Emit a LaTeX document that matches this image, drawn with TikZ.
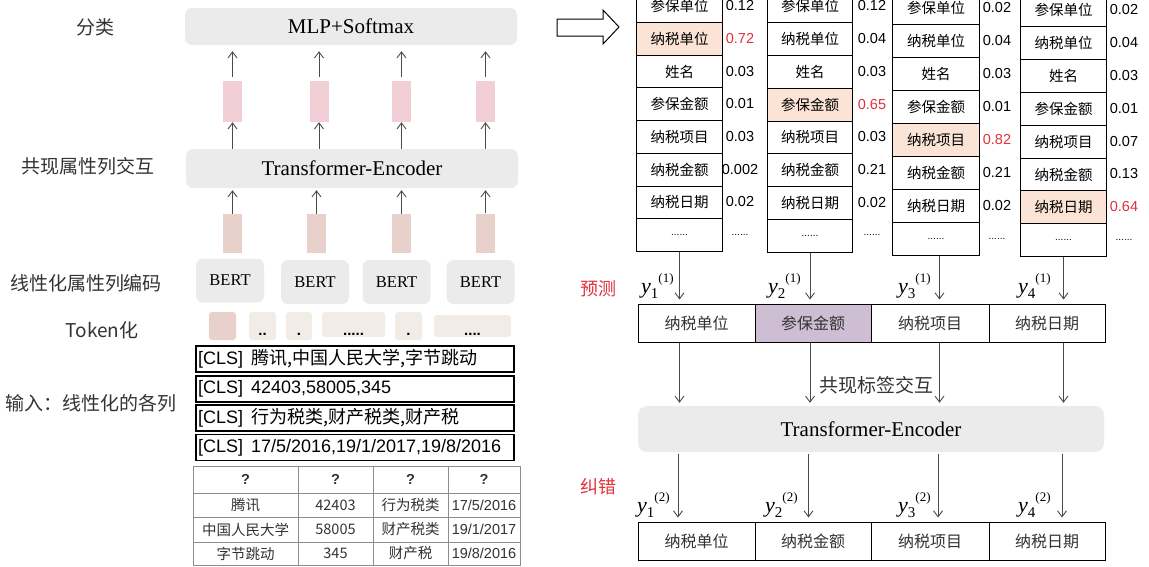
\documentclass[tikz,border=0pt]{standalone}
\usepackage{fontspec}
\setmainfont{Liberation Serif}
\setsansfont{Liberation Sans}
\newfontfamily\cjk{Noto Sans CJK SC}
\usetikzlibrary{arrows.meta}
\definecolor{cBox}{HTML}{EBEBEB}
\definecolor{cPinkA}{HTML}{F2CED6}
\definecolor{cPinkB}{HTML}{E8D1CB}
\definecolor{cTok}{HTML}{F2ECE6}
\definecolor{cHl}{HTML}{FBE4D5}
\definecolor{cPurple}{HTML}{CDBED3}
\definecolor{cRed}{HTML}{E0323A}
\definecolor{cArr}{HTML}{4A4A4A}
\definecolor{cGrid}{HTML}{8C8C8C}
\definecolor{cTxt}{HTML}{333333}
\newcommand\ylb[2]{\fontsize{22}{22}\selectfont\textit{y}\raisebox{-5pt}{\fontsize{15}{15}\selectfont #1}\raisebox{11pt}{\fontsize{13}{13}\selectfont(#2)}}
\newcommand\tdots{{\sffamily\fontsize{10}{10}\selectfont ......}}
\tikzset{
  lab/.style={font=\cjk\fontsize{19}{19}\selectfont, inner sep=0pt, text=cTxt},
  gbox/.style={fill=cBox, rounded corners=7pt, inner sep=0pt},
  arr/.style={draw=cArr, line width=0.9pt, -{Straight Barb[length=6pt,width=9pt]}},
  pinkup/.style={fill=cPinkA, minimum width=19pt, minimum height=41pt, inner sep=0pt},
  pinklow/.style={fill=cPinkB, minimum width=19pt, minimum height=39pt, inner sep=0pt},
  bert/.style={gbox, minimum width=68pt, minimum height=44pt, font=\fontsize{16.5}{16.5}\selectfont},
  tok/.style={fill=cTok, rounded corners=3pt, inner sep=0pt},
  dotstxt/.style={font=\sffamily\bfseries\fontsize{15}{15}\selectfont, inner sep=0pt, anchor=base},
  clsbox/.style={draw=black, line width=1.2pt, minimum width=318pt, minimum height=26pt, text width=314pt, align=left, inner xsep=2pt, inner ysep=0pt, font=\sffamily\fontsize{18}{18}\selectfont},
  tcell/.style={inner sep=0pt, font=\cjk\fontsize{14.5}{14.5}\selectfont, text=cTxt},
  pcell/.style={draw=black, line width=1pt, inner sep=0pt, anchor=north west, font=\cjk\fontsize{14.5}{14.5}\selectfont},
  prob/.style={inner sep=0pt, font=\sffamily\fontsize{14.5}{14.5}\selectfont},
  rowcell/.style={draw=black, line width=1pt, minimum height=38pt, inner sep=0pt, font=\cjk\fontsize{16}{16}\selectfont, text=cTxt},
  redlab/.style={font=\cjk\fontsize{18}{18}\selectfont, text=cRed, inner sep=0pt},
  ylab/.style={inner sep=0pt, anchor=base west},
}
\begin{document}
\begin{tikzpicture}[x=1pt,y=-1pt]
\path[use as bounding box] (0,0) rectangle (1149,566);

% ---------- left labels
\node[lab] (l1) at (95,27) {分类};
\node[lab] (l2) at (88,166) {共现属性列交互};
\node[lab] (l3) at (86,283) {线性化属性列编码};
\node[lab] (l4) at (102,330) {Token化};
\node[lab] (l5) at (91,403) {输入：线性化的各列};

% ---------- left stack
\node[gbox, minimum width=332pt, minimum height=37pt, font=\fontsize{21}{21}\selectfont] (mlp) at (351,26.5) {MLP+Softmax};
\node[gbox, minimum width=332pt, minimum height=39pt, font=\fontsize{21}{21}\selectfont] (te) at (352,168.5) {Transformer-Encoder};

\node[pinkup] (p1) at (232.5,101.5) {};
\node[pinkup] (p2) at (319,101.5) {};
\node[pinkup] (p3) at (401.5,101.5) {};
\node[pinkup] (p4) at (485.5,101.5) {};

\node[pinklow] (q1) at (232.5,233.5) {};
\node[pinklow] (q2) at (316.5,233.5) {};
\node[pinklow] (q3) at (401.5,233.5) {};
\node[pinklow] (q4) at (485.5,233) {};

\foreach \k in {1,2,3,4}{
  \draw[arr, shorten <=4pt, shorten >=6pt] (p\k.north) -- (p\k.north |- mlp.south);
  \draw[arr] (p\k.south |- te.north) -- (p\k.south);
  \draw[arr, shorten >=2pt] (q\k.north) -- (q\k.north |- te.south);
}

\node[bert] (b1) at (230,280.5) {BERT};
\node[bert] (b2) at (315,282) {BERT};
\node[bert] (b3) at (396.5,282) {BERT};
\node[bert] (b4) at (480.5,282) {BERT};

% tokens
\node[tok, fill=cPinkB, minimum width=27pt, minimum height=28pt] (k1) at (222.5,326) {};
\node[tok, minimum width=27pt, minimum height=28pt] (k2) at (262.5,326) {};
\node[tok, minimum width=26pt, minimum height=28pt] (k3) at (299,326) {};
\node[tok, minimum width=63pt, minimum height=25pt] (k4) at (353.5,324.5) {};
\node[tok, minimum width=27pt, minimum height=28pt] (k5) at (408.5,326) {};
\node[tok, minimum width=77pt, minimum height=22pt] (k6) at (472.5,326) {};
\node[dotstxt] (k2t) at (262.5,335) {..};
\node[dotstxt] (k3t) at (299,335) {.};
\node[dotstxt] (k4t) at (353.5,335) {.....};
\node[dotstxt] (k5t) at (408.5,335) {.};
\node[dotstxt] (k6t) at (472.5,335) {....};

% CLS rows
\node[clsbox] (c1) at (355,359) {[CLS]\hspace{8pt}{\cjk 腾讯,中国人民大学,字节跳动}};
\node[clsbox] (c2) at (355,389) {[CLS]\hspace{8pt}42403,58005,345};
\node[clsbox] (c3) at (355,418) {[CLS]\hspace{8pt}{\cjk 行为税类,财产税类,财产税}};
\node[clsbox] (c4) at (355,447.5) {[CLS]\hspace{8pt}17/5/2016,19/1/2017,19/8/2016};

% small input table
\draw[cGrid, line width=0.9pt] (193,466) rectangle (520,565.5);
\foreach \x in {298,373,448} \draw[cGrid, line width=0.9pt] (\x,466) -- (\x,565.5);
\foreach \y in {493,517,542} \draw[cGrid, line width=0.9pt] (193,\y) -- (520,\y);
\foreach \x/\n in {245.5/1,335.5/2,410.5/3,484/4}
  \node[inner sep=0pt, font=\sffamily\bfseries\fontsize{14.5}{14.5}\selectfont, text=cTxt] (h\n) at (\x,479.5) {?};
\node[tcell] (r11) at (245.5,505) {腾讯};
\node[tcell] (r12) at (335.5,505) {42403};
\node[tcell] (r13) at (410.5,505) {行为税类};
\node[tcell, font=\sffamily\fontsize{14.5}{14.5}\selectfont] (r14) at (484,505) {17/5/2016};
\node[tcell] (r21) at (245.5,529.5) {中国人民大学};
\node[tcell] (r22) at (335.5,529.5) {58005};
\node[tcell] (r23) at (410.5,529.5) {财产税类};
\node[tcell, font=\sffamily\fontsize{14.5}{14.5}\selectfont] (r24) at (484,529.5) {19/1/2017};
\node[tcell] (r31) at (245.5,553.5) {字节跳动};
\node[tcell] (r32) at (335.5,553.5) {345};
\node[tcell] (r33) at (410.5,553.5) {财产税};
\node[tcell, font=\sffamily\fontsize{14.5}{14.5}\selectfont] (r34) at (484,553.5) {19/8/2016};

% ---------- hollow arrow
\draw[line width=1pt, fill=white, line join=miter] (557,19) -- (603,19) -- (603,10) -- (619,27) -- (603,44) -- (603,36) -- (557,36) -- cycle;

% ---------- probability tables
\foreach \lab/\p/\hc/\pc [count=\i from 0] in {参保单位/0.12/white/black,纳税单位/0.72/cHl/cRed,姓名/0.03/white/black,参保金额/0.01/white/black,纳税项目/0.03/white/black,纳税金额/0.002/white/black,纳税日期/0.02/white/black,\tdots/\tdots/white/black}{
  \node[pcell, fill=\hc, minimum width=86pt, minimum height=32.7pt] (ta\i) at (636,-10.7+32.7*\i) {\lab};
  \node[prob, text=\pc] (tap\i) at (740,5.65+32.7*\i) {\p};
}
\foreach \lab/\p/\hc/\pc [count=\i from 0] in {参保单位/0.12/white/black,纳税单位/0.04/white/black,姓名/0.03/white/black,参保金额/0.65/cHl/cRed,纳税项目/0.03/white/black,纳税金额/0.21/white/black,纳税日期/0.02/white/black,\tdots/\tdots/white/black}{
  \node[pcell, fill=\hc, minimum width=85pt, minimum height=32.8pt] (tb\i) at (767,-10.7+32.8*\i) {\lab};
  \node[prob, text=\pc] (tbp\i) at (872,5.7+32.8*\i) {\p};
}
\foreach \lab/\p/\hc/\pc [count=\i from 0] in {参保单位/0.02/white/black,纳税单位/0.04/white/black,姓名/0.03/white/black,参保金额/0.01/white/black,纳税项目/0.82/cHl/cRed,纳税金额/0.21/white/black,纳税日期/0.02/white/black,\tdots/\tdots/white/black}{
  \node[pcell, fill=\hc, minimum width=87pt, minimum height=33pt] (tc\i) at (892,-9+33*\i) {\lab};
  \node[prob, text=\pc] (tcp\i) at (997,7.5+33*\i) {\p};
}
\foreach \lab/\p/\hc/\pc [count=\i from 0] in {参保单位/0.02/white/black,纳税单位/0.04/white/black,姓名/0.03/white/black,参保金额/0.01/white/black,纳税项目/0.07/white/black,纳税金额/0.13/white/black,纳税日期/0.64/cHl/cRed,\tdots/\tdots/white/black}{
  \node[pcell, fill=\hc, minimum width=86pt, minimum height=32.9pt] (td\i) at (1020,-7+32.9*\i) {\lab};
  \node[prob, text=\pc] (tdp\i) at (1124,9.45+32.9*\i) {\p};
}

% ---------- prediction row
\node[redlab] (yc) at (598,289) {预测};
\node[rowcell, minimum width=117pt] (pa1) at (696.5,323) {纳税单位};
\node[rowcell, minimum width=116pt, fill=cPurple] (pa2) at (813,323) {参保金额};
\node[rowcell, minimum width=118pt] (pa3) at (930,323) {纳税项目};
\node[rowcell, minimum width=116pt] (pa4) at (1047,323) {纳税日期};

\node[ylab] (ya1) at (641,293) {\ylb{1}{1}};
\node[ylab] (ya2) at (768,293) {\ylb{2}{1}};
\node[ylab] (ya3) at (898,293) {\ylb{3}{1}};
\node[ylab] (ya4) at (1018,293) {\ylb{4}{1}};

\coordinate (xa) at (ta7.south);
\coordinate (xb) at (tb7.south);
\coordinate (xc) at ([xshift=3.5pt]tc7.south);
\coordinate (xd) at (td7.south);

\draw[arr, shorten >=4pt] (ta7.south) -- (xa |- pa1.north);
\draw[arr, shorten >=4pt] (tb7.south) -- (xb |- pa1.north);
\draw[arr, shorten >=4pt] (xc) -- (xc |- pa1.north);
\draw[arr, shorten >=4pt] (td7.south) -- (xd |- pa1.north);

% ---------- transformer (right)
\node[gbox, rounded corners=9pt, minimum width=466pt, minimum height=46pt, font=\fontsize{21}{21}\selectfont] (rte) at (871,429) {Transformer-Encoder};
\node[lab, text=cTxt] (co) at (876,385) {共现标签交互};

\foreach \c in {xa,xb,xc,xd}{
  \draw[arr, shorten >=3pt] (\c |- pa1.south) -- (\c |- rte.north);
}

% ---------- correction row
\node[redlab] (jc) at (598,487) {纠错};
\node[rowcell, minimum width=117pt] (pb1) at (696.5,541) {纳税单位};
\node[rowcell, minimum width=116pt] (pb2) at (813,541) {纳税金额};
\node[rowcell, minimum width=118pt] (pb3) at (930,541) {纳税项目};
\node[rowcell, minimum width=116pt] (pb4) at (1047,541) {纳税日期};

\node[ylab] (yb1) at (637,512) {\ylb{1}{2}};
\node[ylab] (yb2) at (765,512) {\ylb{2}{2}};
\node[ylab] (yb3) at (898,512) {\ylb{3}{2}};
\node[ylab] (yb4) at (1018,512) {\ylb{4}{2}};

\foreach \c in {xa,xb,xc,xd}{
  \draw[arr, shorten <=2pt, shorten >=4pt] ([xshift=-1.5pt]\c |- rte.south) -- ([xshift=-1.5pt]\c |- pb1.north);
}
\end{tikzpicture}
\end{document}
